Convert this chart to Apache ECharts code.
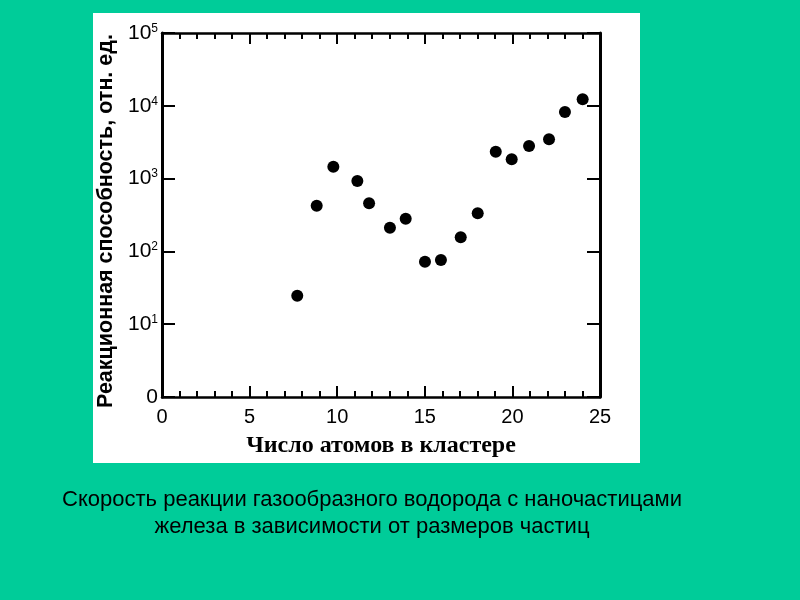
<!DOCTYPE html>
<html><head><meta charset="utf-8">
<script src="https://cdn.jsdelivr.net/npm/echarts@6/dist/echarts.min.js"></script>
<style>html,body{margin:0;padding:0;background:#00CC99;}#c{width:800px;height:600px;}</style>
</head><body><div id="c"></div>
<script>
// Data
const atoms = [7.72, 8.83, 9.78, 11.15, 11.82, 13.01, 13.91, 15.01, 15.92, 17.05, 18.02, 19.05, 19.96, 20.95, 22.09, 23.0, 24.01];
const reactivity = [24.6, 424, 1457, 927, 458, 212, 281, 72, 76, 156, 334, 2342, 1841, 2805, 3467, 8222, 12280];
const xTicks = [0, 5, 10, 15, 20, 25];
const yTickExponents = [0, 1, 2, 3, 4, 5];
const xTitle = 'Число атомов в кластере';
const yTitle = 'Реакционная способность, отн. ед.';
const captionLines = ['Скорость реакции газообразного водорода с наночастицами', 'железа в зависимости от размеров частиц'];

const chart = echarts.init(document.getElementById('c'));
const pts = atoms.map((x, i) => [x, reactivity[i]]);
const axisCommonX = {
  type: 'value', min: xTicks[0], max: xTicks[xTicks.length - 1], interval: 5,
  axisLine: {show: true, onZero: false, lineStyle: {color: '#000', width: 2.5}},
  axisTick: {show: true, inside: true, length: 11, lineStyle: {color: '#000', width: 2}},
  minorTick: {show: true, splitNumber: 5, length: 6, lineStyle: {color: '#000', width: 2}},
  splitLine: {show: false}
};
const axisCommonY = {
  type: 'log', logBase: 10, min: Math.pow(10, yTickExponents[0]), max: Math.pow(10, yTickExponents[yTickExponents.length - 1]), interval: 1,
  axisLine: {show: true, onZero: false, lineStyle: {color: '#000', width: 3}},
  axisTick: {show: true, inside: true, length: 13, lineStyle: {color: '#000', width: 2}},
  splitLine: {show: false}
};
chart.setOption({
  backgroundColor: '#00CC99',
  animation: false,
  graphic: [
    {type: 'rect', z: -10, shape: {x: 93, y: 13, width: 547, height: 450}, style: {fill: '#ffffff'}},
    {type: 'text', x: 372, y: 486, style: {text: captionLines.join('\n'), fill: '#000', font: '22px "Liberation Sans", Arial, sans-serif', textAlign: 'center', textVerticalAlign: 'top', lineHeight: 27}}
  ],
  grid: {left: 162, top: 33, right: 200, bottom: 203},
  xAxis: [
    Object.assign({}, axisCommonX, {
      position: 'bottom',
      name: xTitle, nameLocation: 'middle', nameGap: 37,
      nameTextStyle: {color: '#000', fontSize: 24, fontWeight: 'bold', fontFamily: '"Liberation Serif", "DejaVu Serif", serif'},
      axisLabel: {color: '#000', fontSize: 20, margin: 10, fontFamily: '"Liberation Sans", Arial, sans-serif'}
    }),
    Object.assign({}, axisCommonX, {position: 'top', axisLabel: {show: false}})
  ],
  yAxis: [
    Object.assign({}, axisCommonY, {
      position: 'left',
      name: yTitle, nameLocation: 'middle', nameGap: 42, nameRotate: 90,
      nameTextStyle: {color: '#000', fontSize: 21.5, fontWeight: 'bold', fontFamily: '"Liberation Sans", Arial, sans-serif', padding: [0, 12, 0, 0]},
      axisLabel: {
        color: '#000', margin: 4,
        formatter: v => v === 1 ? '{b|0}' : '{b|10}{s|' + Math.round(Math.log10(v)) + '}',
        rich: {
          b: {fontSize: 21, fontFamily: '"Liberation Sans", Arial, sans-serif', color: '#000'},
          s: {fontSize: 12, fontFamily: '"Liberation Sans", Arial, sans-serif', color: '#000', verticalAlign: 'top', padding: [0, 0, 8, 0]}
        }
      }
    }),
    Object.assign({}, axisCommonY, {position: 'right', axisLabel: {show: false}})
  ],
  series: [{
    type: 'scatter', xAxisIndex: 0, yAxisIndex: 0,
    data: pts, symbol: 'circle', symbolSize: 12,
    itemStyle: {color: '#000', opacity: 1}
  }]
});
</script></body></html>
